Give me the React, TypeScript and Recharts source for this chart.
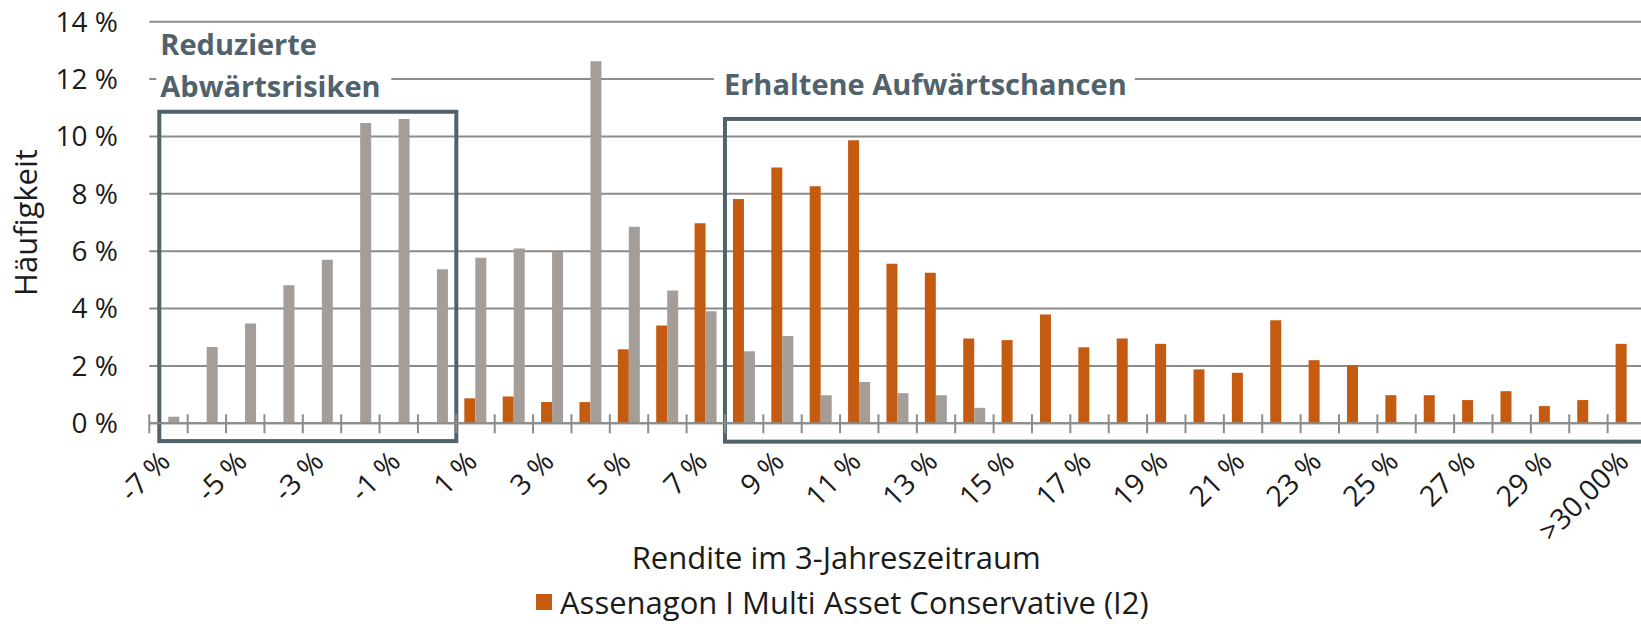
import {
  Bar,
  BarChart,
  CartesianGrid,
  Legend,
  ReferenceArea,
  XAxis,
  YAxis,
} from "recharts";

// Rendite-Klassen (x-Achse)
const CATEGORIES = [
  "-7 %", "-6 %", "-5 %", "-4 %", "-3 %", "-2 %", "-1 %", "0 %",
  "1 %", "2 %", "3 %", "4 %", "5 %", "6 %", "7 %", "8 %", "9 %", "10 %",
  "11 %", "12 %", "13 %", "14 %", "15 %", "16 %", "17 %", "18 %", "19 %",
  "20 %", "21 %", "22 %", "23 %", "24 %", "25 %", "26 %", "27 %", "28 %",
  "29 %", "30 %", ">30,00%",
];

// Häufigkeit in % – Fonds (orange)
const FUND = [
  0, 0, 0, 0, 0, 0, 0, 0,
  0.87, 0.93, 0.74, 0.74, 2.58, 3.41, 6.97, 7.82, 8.92, 8.26,
  9.87, 5.56, 5.25, 2.96, 2.9, 3.79, 2.65, 2.96, 2.77,
  1.88, 1.76, 3.59, 2.2, 2.03, 0.98, 0.98, 0.81, 1.12,
  0.6, 0.81, 2.77,
];

// Häufigkeit in % – Vergleich (grau)
const BENCHMARK = [
  0.23, 2.66, 3.48, 4.81, 5.7, 10.47, 10.61, 5.37,
  5.77, 6.09, 5.97, 12.62, 6.85, 4.63, 3.91, 2.51, 3.04, 0.98,
  1.44, 1.05, 0.98, 0.54, 0, 0, 0, 0, 0,
  0, 0, 0, 0, 0, 0, 0, 0, 0,
  0, 0, 0,
];

const Y_TICKS = [0, 2, 4, 6, 8, 10, 12, 14];

const FUND_NAME = "Assenagon I Multi Asset Conservative (I2)";
const X_TITLE = "Rendite im 3-Jahreszeitraum";
const Y_TITLE = "Häufigkeit";

const COLOR_FUND = "#c55a11";
const COLOR_BENCH = "#a59d98";
const GRID_COLOR = "#8c8c8c";
const BOX_COLOR = "#50626c";
const TEXT_COLOR = "#1b1b1b";
const FONT = "'Open Sans', 'Noto Sans', sans-serif";

const CHART_W = 1646;
const CHART_H = 624;
const MARGIN = { top: 21.7, right: 0, bottom: 0, left: 0 };
const Y_AXIS_W = 149.3;
const X_AXIS_H = CHART_H - 423.3;
const BAND = (CHART_W - Y_AXIS_W - MARGIN.left - MARGIN.right) / CATEGORIES.length;

const data = CATEGORIES.map((cat, i) => ({
  cat,
  fund: FUND[i],
  bench: BENCHMARK[i],
}));

function CategoryTick(props: any) {
  const { x, y, payload, index } = props;
  const edge = x - BAND / 2;
  const ax = x + 3.5;
  const ay = y + 40;
  return (
    <g>
      <line x1={edge} x2={edge} y1={y - 9} y2={y + 10} stroke={GRID_COLOR} strokeWidth={2} />
      {index % 2 === 0 && (
        <text
          x={ax}
          y={ay}
          textAnchor="end"
          transform={`rotate(-45, ${ax}, ${ay})`}
          fontSize={28.5}
          fontFamily={FONT}
          fill={TEXT_COLOR}
        >
          {payload.value}
        </text>
      )}
    </g>
  );
}

type BoxLabel = { text: string; dx: number; dy: number; padL: number; bg: number };

function AnnotationBox(props: any) {
  const { x, y, width, height, inset, labels } = props as {
    x: number;
    y: number;
    width: number;
    height: number;
    inset: number;
    labels: BoxLabel[];
  };
  const left = x + inset;
  return (
    <g>
      <rect
        x={left}
        y={y}
        width={width - inset}
        height={height}
        fill="none"
        stroke={BOX_COLOR}
        strokeWidth={4}
      />
      {labels.map((l) => (
        <g key={l.text}>
          <rect x={left + l.dx - l.padL} y={y + l.dy - 25} width={l.bg} height={31} fill="#ffffff" />
          <text
            x={left + l.dx}
            y={y + l.dy}
            fontSize={29}
            fontWeight={700}
            fontFamily={FONT}
            fill={BOX_COLOR}
          >
            {l.text}
          </text>
        </g>
      ))}
    </g>
  );
}

const LEFT_LABELS: BoxLabel[] = [
  { text: "Reduzierte", dx: 1, dy: -56.7, padL: 4, bg: 170 },
  { text: "Abwärtsrisiken", dx: 1, dy: -14.7, padL: 4, bg: 235 },
];
const RIGHT_LABELS: BoxLabel[] = [
  { text: "Erhaltene Aufwärtschancen", dx: -1, dy: -24, padL: 10, bg: 421 },
];

function FundLegend() {
  return (
    <div
      style={{
        display: "flex",
        alignItems: "center",
        gap: 8,
        fontFamily: FONT,
        fontSize: 31,
        color: TEXT_COLOR,
        whiteSpace: "nowrap",
        lineHeight: "34px",
      }}
    >
      <span style={{ display: "inline-block", width: 16, height: 16, background: COLOR_FUND }} />
      <span>{FUND_NAME}</span>
    </div>
  );
}

function YTitle(props: any) {
  const { viewBox } = props;
  const cx = 37;
  const cy = viewBox.y + viewBox.height / 2;
  return (
    <text
      x={cx}
      y={cy}
      textAnchor="middle"
      transform={`rotate(-90, ${cx}, ${cy})`}
      fontSize={31}
      fontFamily={FONT}
      fill={TEXT_COLOR}
    >
      {Y_TITLE}
    </text>
  );
}

export default function App() {
  return (
    <div
      style={{
        position: "absolute",
        left: 0,
        top: 0,
        width: 1641,
        height: 624,
        overflow: "hidden",
        background: "#ffffff",
      }}
    >
      <BarChart
        width={CHART_W}
        height={CHART_H}
        data={data}
        margin={MARGIN}
        barGap={0}
        barSize={11}
      >
        <CartesianGrid horizontal vertical={false} stroke={GRID_COLOR} strokeWidth={2} />
        <XAxis
          dataKey="cat"
          height={X_AXIS_H}
          interval={0}
          tickSize={0}
          tickMargin={0}
          tickLine={false}
          axisLine={{ stroke: GRID_COLOR, strokeWidth: 2 }}
          tick={<CategoryTick />}
          label={{
            value: X_TITLE,
            position: "insideBottom",
            offset: 55.5,
            dx: -61.5,
            fontSize: 31,
            fontFamily: FONT,
            fill: TEXT_COLOR,
          }}
        />
        <YAxis
          width={Y_AXIS_W}
          domain={[0, 14]}
          ticks={Y_TICKS}
          interval={0}
          tickSize={0}
          tickMargin={31.3}
          tickLine={false}
          axisLine={false}
          tickFormatter={(v: number) => `${v} %`}
          tick={{ fontSize: 28, fontFamily: FONT, fill: TEXT_COLOR }}
          label={<YTitle />}
        />
        <Legend
          layout="horizontal"
          verticalAlign="middle"
          align="center"
          wrapperStyle={{ left: 536, top: 585, width: "auto", height: "auto" }}
          content={() => <FundLegend />}
        />
        <Bar dataKey="fund" name={FUND_NAME} fill={COLOR_FUND} isAnimationActive={false} />
        <Bar dataKey="bench" name="Vergleich" fill={COLOR_BENCH} isAnimationActive={false} legendType="none" />
        <ReferenceArea
          x1="-7 %"
          x2="0 %"
          y1={-0.62}
          y2={10.86}
          ifOverflow="visible"
          shape={(p: any) => <AnnotationBox {...p} inset={10} labels={LEFT_LABELS} />}
        />
        <ReferenceArea
          x1="8 %"
          x2=">30,00%"
          y1={-0.64}
          y2={10.61}
          ifOverflow="visible"
          shape={(p: any) => <AnnotationBox {...p} inset={0} labels={RIGHT_LABELS} />}
        />
      </BarChart>
    </div>
  );
}
